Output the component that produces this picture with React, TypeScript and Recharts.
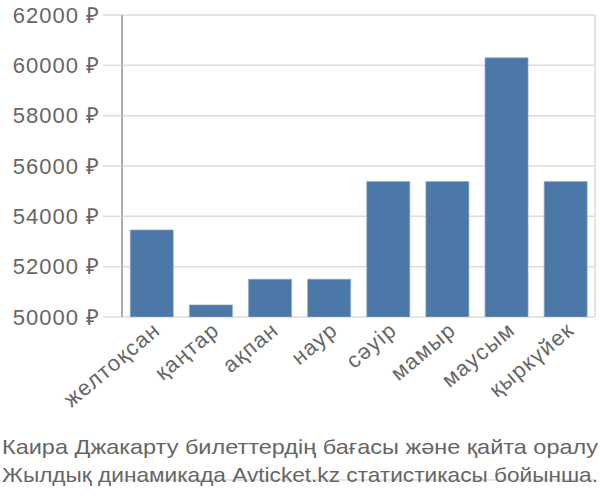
import React from 'react';
import { BarChart, Bar, XAxis, YAxis, CartesianGrid } from 'recharts';

const months = ['желтоқсан', 'қаңтар', 'ақпан', 'наур', 'сәуір', 'мамыр', 'маусым', 'қыркүйек'];
const prices = [53460, 50480, 51500, 51500, 55380, 55380, 60300, 55380];
const yTicks = [50000, 52000, 54000, 56000, 58000, 60000, 62000];
const captionLines = [
  'Каира Джакарту билеттердің бағасы және қайта оралу',
  'Жылдық динамикада Avticket.kz статистикасы бойынша.',
];

const data = months.map((m, i) => ({ month: m, price: prices[i] }));
const bandTicks = months.map((_, i) => i).concat(months.length);

const FONT = '"Liberation Sans", Arial, sans-serif';

const MonthTick = (props: any) => {
  const { x, y, payload } = props;
  return (
    <text
      x={x}
      y={y}
      transform={`rotate(-40, ${x}, ${y})`}
      textAnchor="end"
      dominantBaseline="hanging"
      fontSize={22}
      letterSpacing={1.3}
      fontFamily={FONT}
      fill="#666"
    >
      {payload.value}
    </text>
  );
};

export default function App() {
  return (
    <div style={{ position: 'absolute', left: 0, top: 0, width: 600, height: 500 }}>
      <BarChart
        width={600}
        height={500}
        data={data}
        margin={{ top: 15, right: 5, bottom: 0, left: 0 }}
        barCategoryGap="14%"
      >
        <CartesianGrid xAxisId="g" yAxisId="y" stroke="#ddd" strokeWidth={1.5} />
        <XAxis
          xAxisId="g"
          type="number"
          domain={[0, months.length]}
          ticks={bandTicks}
          tick={false}
          tickSize={20}
          height={20}
          axisLine={{ stroke: '#ddd', strokeWidth: 1.5 }}
          tickLine={{ stroke: '#ddd', strokeWidth: 1.5 }}
        />
        <XAxis
          xAxisId="c"
          dataKey="month"
          interval={0}
          height={163}
          tickLine={false}
          axisLine={false}
          tickSize={0}
          tickMargin={3}
          tick={<MonthTick />}
        />
        <YAxis
          yAxisId="y"
          width={122}
          domain={[50000, 62000]}
          ticks={yTicks}
          allowDataOverflow
          tickSize={19}
          tickMargin={3}
          tickFormatter={(v: number) => `${v} ₽`}
          tick={{ fontSize: 22, fontFamily: FONT, fill: '#666', letterSpacing: 1 }}
          axisLine={{ stroke: '#999', strokeWidth: 1.5 }}
          tickLine={{ stroke: '#ddd', strokeWidth: 1.5 }}
        />
        <Bar
          xAxisId="c"
          yAxisId="y"
          dataKey="price"
          fill="#4c78a8"
          stroke="#8fa9c9"
          strokeWidth={0.7}
          isAnimationActive={false}
        />
      </BarChart>
      <svg width={600} height={500} style={{ position: 'absolute', left: 0, top: 0, pointerEvents: 'none' }}>
        {captionLines.map((line, i) => (
          <text
            key={i}
            x={2}
            y={454 + i * 28}
            fontSize={21}
            fontFamily={FONT}
            fill="#666"
            textLength={596}
            lengthAdjust="spacingAndGlyphs"
          >
            {line}
          </text>
        ))}
      </svg>
    </div>
  );
}
